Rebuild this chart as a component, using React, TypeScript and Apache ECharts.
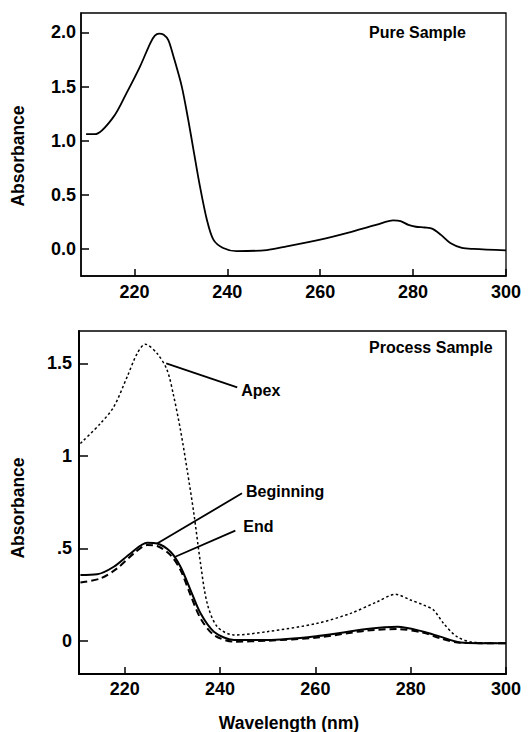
import React, { useEffect, useRef } from "react";
import * as echarts from "echarts";

// Pure sample spectrum
const pureWavelength = [209.6, 211.5, 215.5, 218.3, 221.2, 223.4, 224.4, 225.3, 226.3, 227.3, 228.4, 230.2, 231.6, 232.7, 234.1, 235.6, 237.0, 239.1, 242.0, 248.5, 252.8, 260.0, 267.1, 272.2, 275.7, 277.3, 279.0, 280.6, 282.5, 284.2, 286.0, 288.0, 290.5, 293.0, 300];
const pureAbsorbance = [1.06, 1.06, 1.22, 1.44, 1.685, 1.9, 1.97, 1.99, 1.98, 1.93, 1.78, 1.5, 1.19, 0.92, 0.58, 0.27, 0.086, 0.009, -0.02, -0.01, 0.024, 0.086, 0.163, 0.224, 0.264, 0.258, 0.222, 0.205, 0.198, 0.186, 0.13, 0.055, 0.01, 0.0, -0.013];

// Process sample spectra
const apexWavelength = [210.7, 214.9, 217.7, 220.5, 222.6, 224.3, 226.8, 228.9, 230.3, 231.7, 233.1, 234.5, 235.9, 237.3, 239.4, 242.9, 249.9, 260.4, 267.4, 273.0, 276.8, 280.0, 282.7, 284.8, 286.9, 289.7, 293.2, 300];
const apexAbsorbance = [1.067, 1.175, 1.265, 1.427, 1.553, 1.604, 1.553, 1.463, 1.319, 1.139, 0.923, 0.689, 0.418, 0.202, 0.076, 0.031, 0.049, 0.094, 0.148, 0.211, 0.251, 0.22, 0.193, 0.166, 0.094, 0.022, -0.009, -0.014];

const beginningWavelength = [210.7, 214.2, 217.7, 221.2, 224.7, 226.8, 229.6, 231.7, 233.8, 235.9, 238.7, 242.9, 249.9, 260.4, 270.8, 277.2, 282.7, 286.2, 290.4, 300];
const beginningAbsorbance = [0.355, 0.359, 0.4, 0.472, 0.53, 0.526, 0.481, 0.4, 0.274, 0.148, 0.049, 0.004, 0.004, 0.025, 0.063, 0.076, 0.049, 0.022, -0.009, -0.014];

const endWavelength = [210.7, 214.9, 218.4, 221.9, 224.7, 226.8, 229.6, 231.7, 233.8, 235.9, 238.7, 242.9, 249.9, 260.4, 270.8, 277.2, 282.7, 286.2, 290.4, 300];
const endAbsorbance = [0.315, 0.337, 0.391, 0.472, 0.517, 0.512, 0.463, 0.382, 0.247, 0.121, 0.031, -0.005, 0.0, 0.017, 0.055, 0.063, 0.043, 0.013, -0.011, -0.014];

// Tick positions
const wavelengthTicks = [220, 240, 260, 280, 300];
const pureTicks = [0, 0.5, 1.0, 1.5, 2.0];
const pureTickLabels = ["0.0", "0.5", "1.0", "1.5", "2.0"];
const processTicks = [0, 0.5, 1, 1.5];
const processTickLabels = ["0", ".5", "1", "1.5"];

// Leader lines for the process panel: [from, to] in data coordinates
const annotationNames = ["Apex", "Beginning", "End"];
const annotationFrom = [[228.7, 1.5], [226.8, 0.526], [230.6, 0.454]];
const annotationTo = [[243.6, 1.37], [244.6, 0.797], [243.2, 0.595]];

const pairs = (xs: number[], ys: number[]) => xs.map((x, i) => [x, ys[i]]);

const FONT = "'Liberation Sans', Arial, Helvetica, sans-serif";

export default function App() {
  const ref = useRef<HTMLDivElement>(null);

  useEffect(() => {
    if (!ref.current) return;
    const chart = echarts.init(ref.current, null, { renderer: "svg" });

    const xAxisBase = (gridIndex: number, min: number, lineWidth: number, labelMargin: number) => ({
      type: "value" as const,
      gridIndex,
      min,
      max: 300,
      axisLine: { show: true, onZero: false, lineStyle: { color: "#000", width: lineWidth } },
      axisTick: { show: true, inside: true, length: 7, lineStyle: { color: "#000", width: 1.5 }, customValues: wavelengthTicks },
      axisLabel: {
        color: "#000",
        fontFamily: FONT,
        fontWeight: "bold" as const,
        fontSize: 18,
        margin: labelMargin,
        customValues: wavelengthTicks,
      },
      splitLine: { show: false },
    });

    const yLabel = (ticks: number[], labels: string[], margin: number) => ({
      color: "#000",
      fontFamily: FONT,
      fontWeight: "bold" as const,
      fontSize: 18,
      margin,
      customValues: ticks,
      formatter: (v: number) => labels[ticks.indexOf(Math.round(v * 10) / 10)] ?? "",
    });

    const lineSeries = (name: string, grid: number, xs: number[], ys: number[], lineStyle: any) => ({
      name,
      type: "line" as const,
      xAxisIndex: grid,
      yAxisIndex: grid,
      data: pairs(xs, ys),
      showSymbol: false,
      smooth: 0.3,
      lineStyle,
    });

    chart.setOption({
      animation: false,
      backgroundColor: "#fff",
      grid: [
        { left: 81, top: 13, width: 425, height: 263, show: true, borderColor: "#000", borderWidth: 1.3 },
        { left: 79, top: 331, width: 427, height: 343, show: true, borderColor: "#000", borderWidth: 1.5 },
      ],
      xAxis: [xAxisBase(0, 208.5, 1.5, 7), xAxisBase(1, 210.4, 2, 6)],
      yAxis: [
        {
          type: "value",
          gridIndex: 0,
          min: -0.25,
          max: 2.18,
          axisLine: { show: true, onZero: false, lineStyle: { color: "#000", width: 1.5 } },
          axisTick: { show: true, inside: true, length: 8, lineStyle: { color: "#000", width: 1.5 }, customValues: pureTicks },
          axisLabel: yLabel(pureTicks, pureTickLabels, 5),
          splitLine: { show: false },
        },
        {
          type: "value",
          gridIndex: 1,
          min: -0.18,
          max: 1.675,
          axisLine: { show: true, onZero: false, lineStyle: { color: "#000", width: 2 } },
          axisTick: { show: true, inside: true, length: 9, lineStyle: { color: "#000", width: 1.5 }, customValues: processTicks },
          axisLabel: yLabel(processTicks, processTickLabels, 7),
          splitLine: { show: false },
        },
      ],
      series: [
        lineSeries("Pure Sample", 0, pureWavelength, pureAbsorbance, { color: "#000", width: 1.8 }),
        lineSeries("Apex", 1, apexWavelength, apexAbsorbance, { color: "#000", width: 1.5, type: [2.5, 2.5] }),
        lineSeries("Beginning", 1, beginningWavelength, beginningAbsorbance, { color: "#000", width: 2 }),
        lineSeries("End", 1, endWavelength, endAbsorbance, { color: "#000", width: 2, type: [7, 4] }),
      ],
    });

    // Leader lines and labels anchored to data coordinates
    const toPx = (p: number[]) => chart.convertToPixel({ gridIndex: 1 }, p) as number[];
    const labelOffsets = [[4, 3], [4, -2], [8, -4]];
    const annotations: any[] = [];
    annotationNames.forEach((name, i) => {
      const a = toPx(annotationFrom[i]);
      const b = toPx(annotationTo[i]);
      annotations.push({
        type: "line",
        shape: { x1: a[0], y1: a[1], x2: b[0], y2: b[1] },
        style: { stroke: "#000", lineWidth: 1.8 },
      });
      annotations.push({
        type: "text",
        x: b[0] + labelOffsets[i][0],
        y: b[1] + labelOffsets[i][1],
        style: { text: name, fill: "#000", font: `bold 16px ${FONT}`, align: "left", verticalAlign: "middle" },
      });
    });

    const textStyle = (text: string, size: number, align = "left") => ({
      text,
      fill: "#000",
      font: `bold ${size}px ${FONT}`,
      align,
      verticalAlign: "middle",
    });

    chart.setOption({
      graphic: [
        ...annotations,
        { type: "text", x: 369, y: 32, style: textStyle("Pure Sample", 16) },
        { type: "text", x: 369, y: 347, style: textStyle("Process Sample", 16) },
        { type: "text", x: 18, y: 156, rotation: Math.PI / 2, style: textStyle("Absorbance", 17.5, "center") },
        { type: "text", x: 18, y: 508, rotation: Math.PI / 2, style: textStyle("Absorbance", 17.5, "center") },
        { type: "text", x: 289, y: 723, style: textStyle("Wavelength (nm)", 17.5, "center") },
      ],
    });

    return () => chart.dispose();
  }, []);

  return <div ref={ref} style={{ position: "absolute", left: 0, top: 0, width: 530, height: 732 }} />;
}
